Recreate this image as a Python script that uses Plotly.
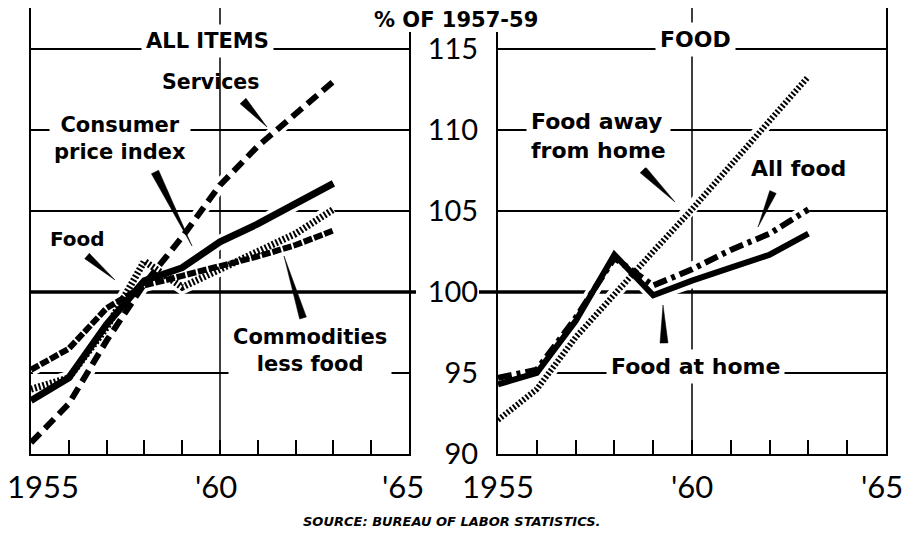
import plotly.graph_objects as go

W, H = 916, 542
OFF = 8  # the page body keeps its default 8px margin

years = [1955, 1956, 1957, 1958, 1959, 1960, 1961, 1962, 1963]

# all items panel
cpi = [93.3, 94.7, 98.0, 100.7, 101.5, 103.1, 104.2, 105.4, 106.7]
services = [90.7, 93.1, 97.0, 100.5, 103.4, 106.6, 109.0, 111.0, 113.0]
food = [94.0, 94.7, 97.8, 101.9, 100.3, 101.4, 102.6, 103.6, 105.1]
commodities = [95.2, 96.5, 99.0, 100.4, 101.0, 101.6, 102.2, 102.9, 103.8]

# food panel
food_home = [94.3, 95.0, 98.2, 102.3, 99.8, 100.7, 101.5, 102.3, 103.6]
all_food = [94.7, 95.2, 98.4, 102.1, 100.4, 101.4, 102.6, 103.6, 105.1]
food_away = [92.1, 94.0, 97.2, 99.9, 102.5, 105.1, 107.8, 110.5, 113.3]

x_ticks = list(range(1955, 1966))
x_labels = [(1955, "1955"), (1960, "'60"), (1965, "'65")]
y_ticks = [90, 95, 100, 105, 110, 115]

NUM_FONT = "Lato"
LBL_FONT = "DejaVu Sans"


def px(x, y):
    return (x - OFF) / W, 1 - (y - OFF) / H


left = [
    (services, dict(color="black", width=6, dash="13px,7px")),
    (commodities, dict(color="black", width=6, dash="9px,2px")),
    (food, dict(color="black", width=7, dash="2px,2px")),
    (cpi, dict(color="black", width=7)),
]
right = [
    (food_away, dict(color="black", width=6, dash="2px,2px")),
    (all_food, dict(color="black", width=6, dash="14px,5px,4px,5px")),
    (food_home, dict(color="black", width=6)),
]

fig = go.Figure()

# white halos so the grid breaks around each line
for series, axes in [(left, ("x", "y")), (right, ("x2", "y2"))]:
    for vals, ln in series:
        fig.add_trace(go.Scatter(
            x=years, y=vals, mode="lines", xaxis=axes[0], yaxis=axes[1],
            line=dict(color="white", width=ln["width"] + 7), hoverinfo="skip",
        ))
for series, axes in [(left, ("x", "y")), (right, ("x2", "y2"))]:
    for vals, ln in series:
        fig.add_trace(go.Scatter(
            x=years, y=vals, mode="lines", xaxis=axes[0], yaxis=axes[1],
            line=ln, hoverinfo="skip",
        ))

y_dom = [1 - (454 - OFF) / H, 1]
y_rng = [90, 90 + (454 - OFF) / 16.2]

xax = dict(
    range=[1955, 1965], tickmode="array", tickvals=x_ticks, showticklabels=False,
    ticks="inside", ticklen=14, tickwidth=1.5, tickcolor="black",
    showline=True, linewidth=2, linecolor="black", mirror=True,
    showgrid=False, zeroline=False, automargin=False,
)
yax = dict(
    range=y_rng, domain=y_dom, tickmode="array", tickvals=y_ticks,
    showgrid=True, gridcolor="black", gridwidth=1.5,
    showline=True, linewidth=2, linecolor="black", mirror=True,
    ticks="", zeroline=False, automargin=False,
    tickfont=dict(family=NUM_FONT, size=29, color="black"),
)

fig.update_layout(
    width=W, height=H,
    margin=dict(l=0, r=0, t=0, b=0),
    paper_bgcolor="white", plot_bgcolor="white",
    showlegend=False,
    xaxis=dict(xax, domain=[(31 - OFF) / W, (409 - OFF) / W], anchor="y"),
    yaxis=dict(yax, anchor="x", showticklabels=False),
    xaxis2=dict(xax, domain=[(498 - OFF) / W, (886 - OFF) / W], anchor="y2"),
    yaxis2=dict(yax, anchor="x2", showticklabels=True, ticklabelstandoff=12),
)

shapes = []
# heavy 100 line
for xr in ["x", "x2"]:
    shapes.append(dict(type="line", xref=xr, yref="y", x0=1955, x1=1965, y0=100, y1=100,
                       line=dict(color="black", width=3.5), layer="below"))
for a, b in [(409, 416), (479, 498)]:
    shapes.append(dict(type="line", xref="paper", yref="y", x0=px(a, 0)[0], x1=px(b, 0)[0],
                       y0=100, y1=100, line=dict(color="black", width=3.5), layer="above"))
# vertical grid at 1960
for xr in ["x", "x2"]:
    shapes.append(dict(type="line", xref=xr, yref="paper", x0=1960, x1=1960,
                       y0=y_dom[0], y1=y_dom[1],
                       line=dict(color="black", width=1.5), layer="below"))

# gap in the frame for the unit caption
c0, c1 = px(355, 0), px(556, 32)
shapes.append(dict(type="rect", xref="paper", yref="paper", x0=c0[0], x1=c1[0],
                   y0=c1[1], y1=1.01, fillcolor="white", line=dict(width=0), layer="above"))

# pointer wedges: (wide end x, y, half width, tip x, tip y)
wedges = [
    (243, 101, 4, 267, 127),
    (155, 172, 4, 192, 246),
    (87, 256, 3.5, 115, 280),
    (303, 318, 3.5, 284, 256),
    (643, 170, 4, 675, 202),
    (773, 192, 3.5, 758, 227),
    (664, 343, 4, 663, 305),
]
for wx, wy, hw, tx, ty in wedges:
    dx, dy = tx - wx, ty - wy
    n = (dx * dx + dy * dy) ** 0.5
    nx, ny = -dy / n * hw, dx / n * hw
    p1 = px(wx + nx, wy + ny)
    p2 = px(wx - nx, wy - ny)
    p3 = px(tx, ty)
    shapes.append(dict(type="path", xref="paper", yref="paper",
                       path=f"M {p1[0]},{p1[1]} L {p2[0]},{p2[1]} L {p3[0]},{p3[1]} Z",
                       fillcolor="black", line=dict(color="black", width=0.5), layer="above"))
fig.update_layout(shapes=shapes)

# year labels under both panels
shifts = {("x", 1955): 12, ("x", 1960): -4, ("x", 1965): -6, ("x2", 1965): -4}
for xr in ["x", "x2"]:
    for val, txt in x_labels:
        fig.add_annotation(
            x=val, y=px(0, 486)[1], xref=xr, yref="paper", text=txt, showarrow=False,
            xanchor="center", yanchor="middle", xshift=shifts.get((xr, val), 0),
            font=dict(family=NUM_FONT, size=31, color="black"),
        )


def label(text, cx, cy, size=19, bg=None, align="center", xanchor="center", pad=4):
    x, y = px(cx, cy)
    fig.add_annotation(
        x=x, y=y, xref="paper", yref="paper", text=text, showarrow=False,
        xanchor=xanchor, yanchor="middle", align=align,
        font=dict(family=LBL_FONT, size=size, color="black", weight="bold"),
        bgcolor=bg, borderpad=pad if bg else 0,
    )


label("ALL ITEMS", 207, 41, size=21, bg="white")
label("FOOD", 695, 40, size=22, bg="white")
label("% OF 1957-59", 456, 20, size=21)
label("Services", 210, 82, size=20.5)
label("Consumer<br>price index", 120, 139, size=21, bg="white")
label("Food", 77, 239, size=20)
label("Commodities<br>less food", 310, 350, size=21, bg="white")
label("Food away<br>from home", 526, 136, size=22, bg="white", align="left", xanchor="left")
label("All food", 798, 169, size=22)
label("Food at home", 695, 366, size=22, bg="white")

sx, sy = px(452, 531)
fig.add_annotation(
    x=sx, y=sy, xref="paper", yref="paper", showarrow=False,
    text="<i>SOURCE: BUREAU OF LABOR STATISTICS.</i>",
    font=dict(family=LBL_FONT, size=13, color="black", weight="bold"),
)

fig.write_html("out.html", config={"displayModeBar": False})
